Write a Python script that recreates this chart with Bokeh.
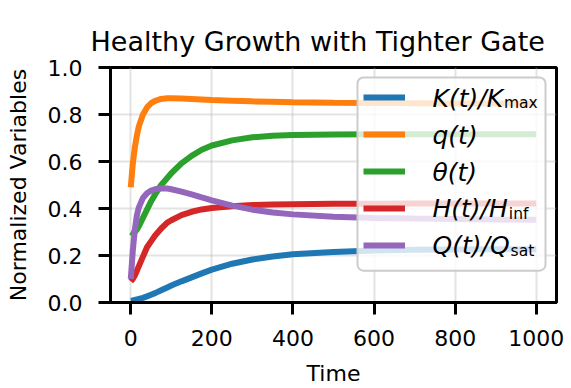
from bokeh.plotting import figure
from bokeh.models import (Range1d, BoxAnnotation, Legend, LegendItem, Label,
                          FixedTicker, PrintfTickFormatter)
from bokeh.embed import file_html
from bokeh.resources import INLINE

# ---------------- data ----------------
time = [0, 5, 10, 15, 20, 30, 40, 50, 60, 75, 90, 100, 125, 150, 175, 200,
        250, 300, 350, 400, 500, 600, 700, 800, 900, 1000]

K_norm = [0.008, 0.009, 0.011, 0.013, 0.015, 0.020, 0.026, 0.033, 0.040, 0.052,
          0.064, 0.072, 0.090, 0.107, 0.124, 0.140, 0.165, 0.183, 0.196, 0.205,
          0.215, 0.221, 0.224, 0.226, 0.227, 0.227]
q_vals = [0.490, 0.590, 0.660, 0.710, 0.750, 0.800, 0.830, 0.848, 0.858, 0.866,
          0.869, 0.869, 0.868, 0.866, 0.864, 0.862, 0.859, 0.856, 0.854, 0.852,
          0.850, 0.849, 0.848, 0.847, 0.847, 0.846]
theta_vals = [0.300, 0.295, 0.300, 0.310, 0.325, 0.360, 0.395, 0.430, 0.460, 0.500,
              0.530, 0.550, 0.592, 0.624, 0.650, 0.668, 0.690, 0.703, 0.710, 0.713,
              0.715, 0.716, 0.716, 0.716, 0.716, 0.716]
H_norm = [0.090, 0.100, 0.115, 0.135, 0.155, 0.195, 0.235, 0.260, 0.285, 0.315,
          0.340, 0.350, 0.372, 0.386, 0.396, 0.402, 0.410, 0.415, 0.417, 0.418,
          0.420, 0.420, 0.421, 0.421, 0.421, 0.421]
Q_norm = [0.100, 0.220, 0.310, 0.370, 0.405, 0.445, 0.465, 0.476, 0.482, 0.486,
          0.485, 0.482, 0.472, 0.460, 0.447, 0.435, 0.412, 0.395, 0.383, 0.375,
          0.365, 0.360, 0.357, 0.355, 0.353, 0.352]

series = [K_norm, q_vals, theta_vals, H_norm, Q_norm]
label_main = ["K(t)/K", "q(t)", "θ(t)", "H(t)/H", "Q(t)/Q"]
label_sub = ["max", "", "", "inf", "sat"]
label_em = [2.821, 1.807, 1.774, 3.013, 3.083]   # text width in em (DejaVu)
colors = ["#1f77b4", "#ff7f0e", "#2ca02c", "#d62728", "#9467bd"]

x_ticks = [0, 200, 400, 600, 800, 1000]
y_ticks = [0.0, 0.2, 0.4, 0.6, 0.8, 1.0]

title_text = "Healthy Growth with Tighter Gate"
x_label = "Time"
y_label = "Normalized Variables"

# ---------------- layout (canvas pixels) ----------------
W, H = 571, 388
FL, FR, FT, FB = 110, 556, 67, 303
XMIN, XMAX = -50, 1050


def px2x(px):
    return XMIN + (px - FL) / (FR - FL) * (XMAX - XMIN)


def py2y(py):
    return (FB - py) / (FB - FT)


FONT = "DejaVu Sans"

p = figure(width=W, height=H, output_backend="svg", toolbar_location=None,
           x_range=Range1d(XMIN, XMAX), y_range=Range1d(0, 1),
           min_border_left=FL, min_border_right=W - FR,
           min_border_top=FT, min_border_bottom=H - FB,
           title=title_text)

p.background_fill_color = "white"
p.border_fill_color = "white"
p.outline_line_color = "black"
p.outline_line_width = 3
p.outline_line_alpha = 1

p.title.text_font = FONT
p.title.text_font_size = "27px"
p.title.text_font_style = "normal"
p.title.text_color = "black"
p.title.align = "left"
p.title.offset = 90 - FL
p.title.standoff = 22

p.xaxis.ticker = FixedTicker(ticks=x_ticks)
p.yaxis.ticker = FixedTicker(ticks=y_ticks)
p.yaxis.formatter = PrintfTickFormatter(format="%.1f")
p.xaxis.axis_label = x_label
p.yaxis.axis_label = y_label

for ax in (p.xaxis, p.yaxis):
    ax.axis_line_width = 3
    ax.axis_line_color = "black"
    ax.major_tick_line_width = 3
    ax.major_tick_line_color = "black"
    ax.major_tick_out = 12
    ax.major_tick_in = 0
    ax.minor_tick_line_color = None
    ax.major_label_text_font = FONT
    ax.major_label_text_font_size = "22px"
    ax.major_label_text_color = "black"
    ax.axis_label_text_font = FONT
    ax.axis_label_text_font_size = "22px"
    ax.axis_label_text_font_style = "normal"
    ax.axis_label_text_color = "black"

p.xaxis.major_label_standoff = 15
p.xaxis.axis_label_standoff = 12
p.yaxis.major_label_standoff = 16
p.yaxis.axis_label_standoff = 14

for g in (p.xgrid, p.ygrid):
    g.grid_line_color = "#b0b0b0"
    g.grid_line_alpha = 0.35
    g.grid_line_width = 2
p.xgrid.ticker = FixedTicker(ticks=x_ticks)
p.ygrid.ticker = FixedTicker(ticks=y_ticks)

renderers = []
for vals, c in zip(series, colors):
    r = p.line(time, vals, line_color=c, line_width=6)
    renderers.append(r)

# legend frame
box = BoxAnnotation(left=px2x(357), right=px2x(545), top=py2y(77), bottom=py2y(271),
                    fill_color="white", fill_alpha=0.8, line_color="#cccccc",
                    line_width=2, line_alpha=1, border_radius=6)
p.add_layout(box)

row_pitch = 37
first_row = 98
n = len(series)
leg_h = n * 20 + (n - 1) * (row_pitch - 20)
legend = Legend(items=[LegendItem(label="", renderers=[r]) for r in renderers],
                location=(363 - FL, FB - (first_row - 10) - leg_h),
                padding=0, margin=0, spacing=row_pitch - 20,
                glyph_width=42, glyph_height=20, label_height=20, label_width=0,
                label_standoff=0, label_text_font_size="1px",
                border_line_alpha=0, background_fill_alpha=0)
p.add_layout(legend, "center")

MAIN_FS = 25
SUB_FS = 15.5
text_x = 432
for i in range(n):
    cy = first_row + i * row_pitch
    p.add_layout(Label(x=px2x(text_x), y=py2y(cy), text=label_main[i],
                       text_font=FONT, text_font_size=f"{MAIN_FS}px",
                       text_font_style="italic", text_color="black",
                       text_baseline="middle", text_align="left"))
    if label_sub[i]:
        sx = text_x + label_em[i] * MAIN_FS + 1
        p.add_layout(Label(x=px2x(sx), y=py2y(cy + 5), text=label_sub[i],
                           text_font=FONT, text_font_size=f"{SUB_FS}px",
                           text_color="black",
                           text_baseline="middle", text_align="left"))

open("out.html", "w").write(file_html(p, INLINE))
